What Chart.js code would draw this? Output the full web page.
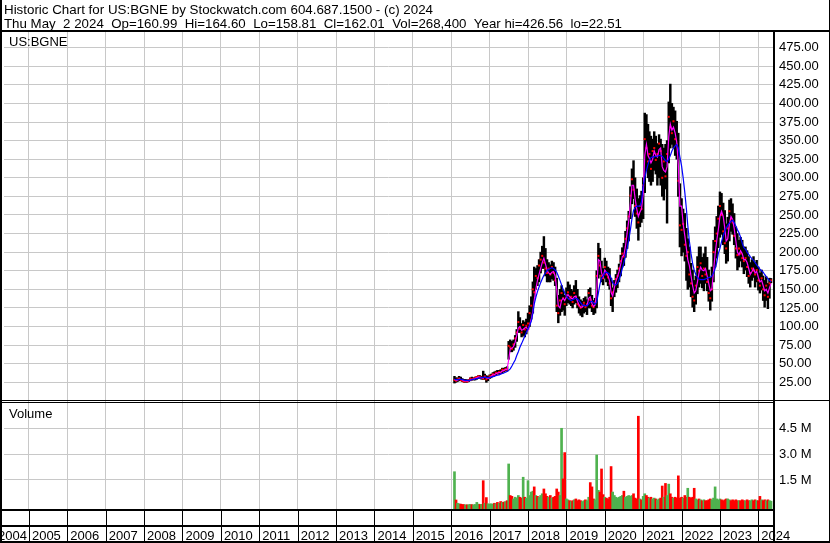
<!DOCTYPE html>
<html>
<head>
<meta charset="utf-8">
<script src="https://cdn.jsdelivr.net/npm/chart.js@4.4.1/dist/chart.umd.min.js"></script>
<style>
html,body{margin:0;padding:0;background:#fff;}
canvas{display:block;}
</style>
</head>
<body>
<canvas id="c" width="830" height="543"></canvas>
<script>
// ---------- text ----------
const title1 = "Historic Chart for US:BGNE by Stockwatch.com 604.687.1500 - (c) 2024";
const title2 = "Thu May  2 2024  Op=160.99  Hi=164.60  Lo=158.81  Cl=162.01  Vol=268,400  Year hi=426.56  lo=22.51";
const symbolLabel = "US:BGNE";
const volumeLabel = "Volume";

// ---------- axes ----------
const yearLabels = ["2004","2005","2006","2007","2008","2009","2010","2011","2012","2013","2014",
  "2015","2016","2017","2018","2019","2020","2021","2022","2023","2024"];
const yearBoundaries = [2005,2006,2007,2008,2009,2010,2011,2012,2013,2014,2015,2016,2017,2018,2019,2020,2021,2022,2023,2024];
const priceTicks = [25,50,75,100,125,150,175,200,225,250,275,300,325,350,375,400,425,450,475];
const volumeTicks = [1.5,3.0,4.5];

// ---------- data (half-month periods) ----------
const dates = [
 "2016-02-01","2016-02-16","2016-03-01","2016-03-16","2016-04-01","2016-04-16","2016-05-01","2016-05-16","2016-06-01","2016-06-16","2016-07-01","2016-07-16","2016-08-01","2016-08-16","2016-09-01","2016-09-16","2016-10-01","2016-10-16","2016-11-01","2016-11-16","2016-12-01","2016-12-16",
 "2017-01-01","2017-01-16","2017-02-01","2017-02-16","2017-03-01","2017-03-16","2017-04-01","2017-04-16","2017-05-01","2017-05-16","2017-06-01","2017-06-16","2017-07-01","2017-07-16","2017-08-01","2017-08-16","2017-09-01","2017-09-16","2017-10-01","2017-10-16","2017-11-01","2017-11-16","2017-12-01","2017-12-16",
 "2018-01-01","2018-01-16","2018-02-01","2018-02-16","2018-03-01","2018-03-16","2018-04-01","2018-04-16","2018-05-01","2018-05-16","2018-06-01","2018-06-16","2018-07-01","2018-07-16","2018-08-01","2018-08-16","2018-09-01","2018-09-16","2018-10-01","2018-10-16","2018-11-01","2018-11-16","2018-12-01","2018-12-16",
 "2019-01-01","2019-01-16","2019-02-01","2019-02-16","2019-03-01","2019-03-16","2019-04-01","2019-04-16","2019-05-01","2019-05-16","2019-06-01","2019-06-16","2019-07-01","2019-07-16","2019-08-01","2019-08-16","2019-09-01","2019-09-16","2019-10-01","2019-10-16","2019-11-01","2019-11-16","2019-12-01","2019-12-16",
 "2020-01-01","2020-01-16","2020-02-01","2020-02-16","2020-03-01","2020-03-16","2020-04-01","2020-04-16","2020-05-01","2020-05-16","2020-06-01","2020-06-16","2020-07-01","2020-07-16","2020-08-01","2020-08-16","2020-09-01","2020-09-16","2020-10-01","2020-10-16","2020-11-01","2020-11-16","2020-12-01","2020-12-16",
 "2021-01-01","2021-01-16","2021-02-01","2021-02-16","2021-03-01","2021-03-16","2021-04-01","2021-04-16","2021-05-01","2021-05-16","2021-06-01","2021-06-16","2021-07-01","2021-07-16","2021-08-01","2021-08-16","2021-09-01","2021-09-16","2021-10-01","2021-10-16","2021-11-01","2021-11-16","2021-12-01","2021-12-16",
 "2022-01-01","2022-01-16","2022-02-01","2022-02-16","2022-03-01","2022-03-16","2022-04-01","2022-04-16","2022-05-01","2022-05-16","2022-06-01","2022-06-16","2022-07-01","2022-07-16","2022-08-01","2022-08-16","2022-09-01","2022-09-16","2022-10-01","2022-10-16","2022-11-01","2022-11-16","2022-12-01","2022-12-16",
 "2023-01-01","2023-01-16","2023-02-01","2023-02-16","2023-03-01","2023-03-16","2023-04-01","2023-04-16","2023-05-01","2023-05-16","2023-06-01","2023-06-16","2023-07-01","2023-07-16","2023-08-01","2023-08-16","2023-09-01","2023-09-16","2023-10-01","2023-10-16","2023-11-01","2023-11-16","2023-12-01","2023-12-16",
 "2024-01-01","2024-01-16","2024-02-01","2024-02-16","2024-03-01","2024-03-16","2024-04-01","2024-04-16","2024-05-01"
];
const highs = [
 33,31,31,33,32,30,29,29,28,29,31,32,31,32,33,34,34,33,40,36,34,33,
 35,36,38,39,40,41,41,42,44,44,45,46,80,82,80,82,88,96,120,112,104,108,106,110,
 118,128,140,160,180,178,182,190,200,208,221,205,190,186,183,188,186,180,165,142,150,155,148,142,
 152,160,156,150,148,155,162,150,140,136,134,138,140,136,150,152,142,135,138,175,212,205,188,178,
 192,188,180,178,165,152,162,170,176,184,196,206,212,228,242,255,288,312,323,300,285,272,276,282,
 300,387,385,372,362,356,352,362,356,346,358,352,345,340,345,350,402,426,400,395,390,376,360,292,
 272,258,252,232,218,207,185,176,162,168,194,207,207,193,198,207,193,176,166,180,216,234,248,262,
 281,279,266,256,238,247,270,272,265,252,234,225,216,220,216,207,207,202,194,186,190,194,186,189,
 180,172,176,168,162,167,158,165,164.6
];
const lows = [
 24,25,26,27,27,26,25,25,25,26,27,28,28,28,29,30,30,29,29,29,25,27,
 30,31,33,34,34,36,36,37,37,39,40,40,56,66,66,68,72,80,92,92,86,88,86,90,
 96,100,110,118,140,150,155,160,172,178,178,168,160,160,160,164,162,155,120,105,115,120,122,115,
 128,132,130,128,125,130,132,125,118,115,113,118,120,116,125,125,120,116,118,125,165,170,160,156,
 165,160,155,150,128,120,140,146,152,160,168,180,182,193,205,215,245,265,272,248,232,216,234,240,
 245,280,310,300,295,290,295,310,305,290,300,290,275,270,285,239,320,340,345,340,330,325,275,207,
 195,200,188,162,150,153,140,126,120,130,144,153,158,152,148,158,148,134,122,134,160,180,192,206,
 220,224,210,198,185,188,215,228,224,210,192,176,180,188,180,171,176,167,158,153,162,166,153,160,
 149,145,149,135,126,135,124,138,158.81
];
const closes = [
 28,27,29,30,28,27,26,27,26,28,30,29,30,31,32,33,31,31.5,30,33,29,31,
 33,34,36,35,38,37,39,38,42,41,43,42,74,72,70,76,84,92,106,97,92,102,96,101,
 104,118,128,150,146,168,165,182,190,195,186,178,172,178,170,180,172,162,128,118,135,145,138,130,
 142,146,137,140,133,145,140,130,128,125,128,132,126,130,145,136,128,126,132,168,195,182,168,165,
 180,170,166,158,138,146,156,164,168,178,188,198,194,218,232,248,276,298,284,262,252,240,262,258,
 290,352,340,322,332,312,336,340,324,332,346,336,300,322,302,332,382,368,360,376,352,345,296,236,
 230,238,210,195,200,170,158,140,135,155,180,175,185,168,178,170,160,145,138,150,200,215,225,245,
 262,250,228,212,205,232,255,245,240,222,205,196,205,198,192,188,192,180,168,172,178,175,170,176,
 162,155,165,150,142,155,140,158,162.01
];
const fastMA = [
 29,28,28,29,29,28,27,27,27,27,28,29,29,30,31,32,32,31,31,32,31,30,
 31,33,35,35.5,36.5,37.5,38,38.5,40,41,42,42.5,55,70,71,73,79,88,98,100,95,96,98,99,
 95,102,110,120,135,150,162,170,178,186,192,184,176,172,170,173,174,168,150,128,125,135,138,135,
 140,143,140,138,137,140,141,134,129,126,126,129,128,128,138,140,131,127,129,150,190,188,172,166,
 176,173,168,161,146,141,152,161,167,174,184,194,196,208,226,242,265,290,290,272,258,248,254,258,
 278,330,345,330,326,320,325,336,330,328,338,340,315,310,308,315,355,372,364,368,360,348,318,262,
 262,238,222,205,190,182,168,155,145,148,160,172,180,176,175,178,168,158,148,150,175,198,215,230,
 248,255,248,232,215,218,238,248,244,232,215,200,196,202,198,190,190,186,178,170,174,178,172,174,
 166,160,162,155,148,150,145,152,158
];
const slowMA = [
 29,28.5,28.5,29,29,28.5,28,27.5,27.5,27.5,28,28.5,29,29.5,30,30.5,31,31,31.5,32,31.5,31,
 31.5,32,32.5,33,34,34.5,35,36,37,37.5,38.5,39.5,41,43,47,51,55,61,66,72,77,82,87,92,
 97,101,107,118,130,139,147,153,159,164,169,172,175,177,178,179,178,176,173,168,162,156,150,145,
 141,138,136,135,136,137,138,137,135,132,129,128,128,128,130,133,134,132,130,133,145,157,165,168,
 172,173,172,170,165,159,156,156,158,163,170,178,186,195,205,216,230,245,256,260,262,262,262,268,
 290,300,310,318,324,327,328,328,329,329,330,330,329,326,323,322,325,330,336,340,343,345,340,328,
 316,300,280,258,236,215,198,185,176,170,166,164,163,163,163,164,165,166,166,168,172,178,186,198,
 205,214,222,228,232,236,239,241,243,240,235,230,226,220,212,206,204,200,197,194,191,189,186,183,
 180,177,175,173,170,167,164,162,160
];
const volumeMillions = [
 1.98,0.34,0.15,0.12,0.10,0.08,0.07,0.06,0.06,0.07,0.08,0.07,0.06,0.08,0.20,0.10,0.08,0.09,1.46,0.15,0.48,0.12,
 0.10,0.12,0.10,0.15,0.12,0.20,0.15,0.25,0.20,0.22,0.25,0.30,2.43,0.60,0.55,0.40,0.50,0.45,0.60,0.50,0.45,1.66,0.50,0.45,
 1.46,0.60,0.80,0.85,1.10,0.60,0.55,0.50,0.60,0.70,0.98,0.70,0.55,0.50,0.60,0.45,0.50,0.55,0.98,0.80,0.60,4.50,1.56,3.09,
 0.40,0.35,0.30,0.25,0.30,0.35,0.40,0.30,0.35,0.30,0.25,0.30,0.35,0.30,0.50,1.35,1.10,0.40,0.35,2.95,0.90,0.80,2.14,0.65,
 0.50,0.45,0.40,0.50,2.28,0.80,0.60,0.50,0.45,0.50,0.55,0.60,0.85,0.50,0.55,0.60,0.55,0.60,0.70,0.45,0.40,5.20,0.40,0.35,
 0.55,0.70,0.60,0.50,0.45,0.50,0.40,0.45,0.40,0.35,0.40,0.45,1.15,0.50,1.30,0.60,1.26,0.70,0.50,0.45,0.50,0.45,1.74,0.45,
 0.50,0.45,0.60,0.50,1.02,0.50,0.45,0.50,1.02,0.40,0.35,0.40,0.35,0.30,0.35,0.30,0.30,0.35,0.40,0.35,0.45,1.10,0.40,0.35,
 0.40,0.35,0.30,0.35,0.40,0.40,0.35,0.30,0.35,0.30,0.35,0.30,0.30,0.30,0.35,0.30,0.30,0.35,0.30,0.30,0.35,0.30,0.35,0.30,
 0.30,0.55,0.35,0.30,0.35,0.30,0.35,0.30,0.27
];

// ---------- layout / style constants ----------
const X_MIN = 2004.3505, X_MAX = 2024.3816;
const PRICE_MIN = -145.4, PRICE_MAX = 497.4;
const VOL_MIN = -0.183, VOL_MAX = 27.55;
const FONT = '"Liberation Sans", Arial, sans-serif';
const GRID = '#c8c8c8';
const UP = '#4fb24f', DOWN = '#ff0000';

function toYear(s){
  const [y,m,d] = s.split('-').map(Number);
  const a = Date.UTC(y,0,1), b = Date.UTC(y+1,0,1);
  return y + (Date.UTC(y,m-1,d) - a) / (b - a);
}
const xs = dates.map(toYear);
const priceBars = xs.map((x,i) => ({x, y:[lows[i], highs[i]]}));
const closePts = xs.map((x,i) => ({x, y:closes[i]}));
const fastPts = xs.map((x,i) => ({x, y:fastMA[i]}));
const slowPts = xs.map((x,i) => ({x, y:slowMA[i]}));
const volBars = xs.map((x,i) => ({x, y:[VOL_MIN, volumeMillions[i]]}));
const volColors = closes.map((c,i) => (i === 0 || c >= closes[i-1]) ? UP : DOWN);

function fitText(ctx, s, x, y, w){
  const m = ctx.measureText(s).width;
  ctx.save(); ctx.translate(x, y); ctx.scale(w / m, 1); ctx.fillText(s, 0, 0); ctx.restore();
}

const decor = {
  id: 'decor',
  beforeDraw(chart){
    const ctx = chart.ctx;
    ctx.save(); ctx.fillStyle = '#fff'; ctx.fillRect(0,0,chart.width,chart.height); ctx.restore();
  },
  afterDraw(chart){
    const ctx = chart.ctx, sx = chart.scales.x, sv = chart.scales.yv;
    ctx.save();
    ctx.fillStyle = '#000';
    // frame lines
    ctx.fillRect(829,0,1,543);
    ctx.fillRect(0,0,2,543);
    ctx.fillRect(0,541,830,2);
    ctx.fillRect(0,30,830,2);
    ctx.fillRect(773,30,2,513);
    ctx.fillRect(0,400,830,1);
    ctx.fillRect(0,402,773,1);
    ctx.fillRect(0,509,775,2);
    ctx.fillRect(0,525,775,2);
    yearBoundaries.forEach(v => {
      const px = Math.round(sx.getPixelForValue(v));
      ctx.fillRect(px, 509, 1, 33);
    });
    // texts
    ctx.font = '13px ' + FONT;
    ctx.textAlign = 'left';
    ctx.textBaseline = 'alphabetic';
    fitText(ctx, title1, 4, 13.5, 429);
    fitText(ctx, title2, 4, 27.5, 618);
    ctx.fillText(symbolLabel, 9, 45.5);
    ctx.fillText(volumeLabel, 9, 418);
    yearLabels.forEach(lbl => {
      let px = sx.getPixelForValue(Number(lbl)) + 3;
      if (px < 0) px = -2;
      ctx.fillText(lbl, px, 539.5);
    });
    ctx.textBaseline = 'middle';
    volumeTicks.forEach(v => ctx.fillText(v.toFixed(1) + ' M', 779, sv.getPixelForValue(v)));
    ctx.restore();
  }
};

Chart.defaults.font.family = FONT;
new Chart(document.getElementById('c'), {
  type: 'bar',
  data: {
    datasets: [
      {type:'line', data:slowPts, borderColor:'#0000ff', borderWidth:1.2, pointRadius:0, fill:false, tension:0, yAxisID:'y', xAxisID:'x', order:0},
      {type:'line', data:fastPts, borderColor:'#ff00ff', borderWidth:1.2, pointRadius:0, fill:false, tension:0, yAxisID:'y', xAxisID:'x', order:1},
      {type:'scatter', data:closePts, pointStyle:'rect', pointRadius:1.4, pointBackgroundColor:'#ff0000', pointBorderWidth:0, showLine:false, yAxisID:'y', xAxisID:'x', order:2},
      {type:'bar', data:priceBars, backgroundColor:'#000000', barThickness:1.8, grouped:false, yAxisID:'y', xAxisID:'x', order:3},
      {type:'bar', data:volBars, backgroundColor:volColors, barThickness:2, grouped:false, yAxisID:'yv', xAxisID:'x', order:4}
    ]
  },
  options: {
    responsive: false,
    animation: false,
    devicePixelRatio: 1,
    events: [],
    layout: {padding: {left:2, right:0, top:31, bottom:34}},
    plugins: {legend:{display:false}, tooltip:{enabled:false}, title:{display:false}},
    scales: {
      x: {
        type:'linear', min:X_MIN, max:X_MAX, offset:false, position:'bottom',
        grid:{color:GRID, lineWidth:1, drawTicks:false, offset:false},
        border:{display:false},
        ticks:{display:false},
        afterBuildTicks: s => { s.ticks = yearBoundaries.map(v => ({value:v})); },
        afterFit: s => { s.height = 0; }
      },
      y: {
        type:'linear', position:'right', min:PRICE_MIN, max:PRICE_MAX,
        grid:{color:GRID, lineWidth:1, drawTicks:false},
        border:{display:false},
        ticks:{color:'#000', font:{family:FONT, size:13}, padding:6, callback: v => Number(v).toFixed(2)},
        afterBuildTicks: s => { s.ticks = priceTicks.map(v => ({value:v})); },
        afterFit: s => { s.width = 57; }
      },
      yv: {
        type:'linear', position:'right', min:VOL_MIN, max:VOL_MAX,
        grid:{color:GRID, lineWidth:1, drawTicks:false},
        border:{display:false},
        ticks:{display:false},
        afterBuildTicks: s => { s.ticks = volumeTicks.map(v => ({value:v})); },
        afterFit: s => { s.width = 0; }
      }
    }
  },
  plugins: [decor]
});
</script>
</body>
</html>
